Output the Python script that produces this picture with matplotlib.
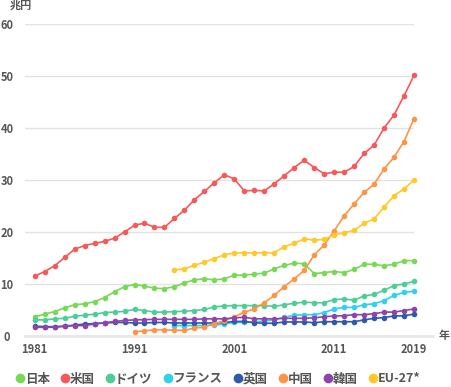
import matplotlib
matplotlib.use("Agg")
import matplotlib.pyplot as plt
from matplotlib.lines import Line2D
import numpy as np

plt.rcParams['font.family'] = ['Noto Sans CJK JP', 'DejaVu Sans']

years = np.arange(1981, 2020)
years_cn = np.arange(1991, 2020)
years_fr = np.arange(1995, 2020)
years_eu = np.arange(1995, 2020)

japan = [3.7, 4.2, 4.7, 5.4, 6.0, 6.2, 6.6, 7.4, 8.5, 9.5,
         9.9, 9.6, 9.2, 9.1, 9.5, 10.2, 10.8, 11.0, 10.8, 11.0,
         11.7, 11.7, 11.9, 12.1, 12.9, 13.6, 14.0, 13.9, 12.0, 12.2,
         12.4, 12.2, 12.8, 13.8, 13.8, 13.5, 13.8, 14.5, 14.5]
usa = [11.5, 12.4, 13.5, 15.1, 16.7, 17.4, 17.8, 18.2, 18.8, 20.0,
       21.3, 21.7, 20.9, 20.9, 22.6, 24.2, 26.2, 27.8, 29.5, 31.0,
       30.2, 27.9, 28.0, 27.9, 29.3, 30.8, 32.4, 33.8, 32.4, 31.2,
       31.5, 31.5, 32.6, 35.1, 36.7, 40.0, 42.5, 46.2, 50.1]
germany = [3.1, 3.1, 3.3, 3.4, 3.8, 4.0, 4.2, 4.5, 4.6, 4.75,
           5.1, 4.9, 4.6, 4.6, 4.7, 4.75, 4.9, 5.1, 5.6, 5.8,
           5.85, 5.85, 5.85, 5.85, 5.7, 6.0, 6.3, 6.5, 6.4, 6.4,
           7.0, 7.1, 6.9, 7.7, 8.0, 8.8, 9.7, 10.0, 10.5]
france = [2.0, 2.0, 2.0, 2.0, 2.1, 2.3,
          2.6, 2.6, 2.7, 2.9, 3.1, 3.6, 4.0, 4.1, 4.1, 4.5,
          5.2, 5.5, 5.5, 6.0, 6.2, 6.8, 7.8, 8.4, 8.6]
uk = [1.9, 1.8, 1.8, 1.9, 2.1, 2.3, 2.4, 2.5, 2.6, 2.6,
      2.5, 2.5, 2.6, 2.6, 2.5, 2.5, 2.5, 2.5, 2.5, 2.6,
      2.8, 2.8, 2.55, 2.45, 2.45, 2.7, 2.7, 2.7, 2.55, 2.75,
      2.75, 2.75, 2.75, 3.1, 3.4, 3.55, 3.85, 3.9, 4.2]
china = [0.8, 1.0, 1.2, 1.2, 1.1, 1.1, 1.5, 1.7, 2.4, 2.9,
         3.7, 4.6, 5.2, 6.4, 7.8, 9.5, 11.0, 12.6, 15.6, 17.5,
         20.2, 23.1, 25.4, 27.6, 29.2, 32.1, 34.4, 37.4, 41.8]
korea = [1.7, 1.65, 1.7, 1.85, 2.0, 2.0, 2.3, 2.55, 2.8, 3.0,
         3.1, 3.15, 3.2, 3.2, 3.2, 3.2, 3.2, 3.3, 3.3, 3.3,
         3.5, 3.6, 3.3, 3.3, 3.3, 3.4, 3.4, 3.4, 3.5, 3.7,
         3.85, 3.9, 4.1, 4.1, 4.3, 4.6, 4.6, 4.9, 5.2]
eu27 = [12.75, 12.9, 13.6, 14.2, 14.9, 15.6,
        16.0, 16.0, 16.0, 16.0, 16.0, 17.2, 17.8, 18.7, 18.4, 18.6,
        19.4, 19.9, 20.3, 21.7, 22.5, 24.8, 27.0, 28.3, 30.0]

series = [
    ("日本", years, japan, "#79d955"),
    ("米国", years, usa, "#f65959"),
    ("ドイツ", years, germany, "#4ccf96"),
    ("フランス", years_fr, france, "#2fd0f0"),
    ("英国", years, uk, "#2e5aac"),
    ("中国", years_cn, china, "#ff9447"),
    ("韓国", years, korea, "#8e44ad"),
    ("EU-27*", years_eu, eu27, "#ffc928"),
]

text_color = "#555555"

fig = plt.figure(figsize=(4.52, 3.87), dpi=100)
ax = fig.add_axes([25 / 452, 51 / 387, 389 / 452, 312 / 387])

for name, x, y, c in series:
    ax.plot(x, y, color=c, lw=1.2, marker="o", markersize=4,
            markeredgewidth=0, clip_on=False, zorder=3)

ax.set_xlim(1980.03, 2019)
ax.set_ylim(0, 60)
ax.set_yticks([0, 10, 20, 30, 40, 50, 60])
ax.set_xticks([1981, 1991, 2001, 2011, 2019])
ax.grid(axis="y", color="#e3e3e3", lw=1)
ax.set_axisbelow(True)
for s in ax.spines.values():
    s.set_visible(False)
ax.tick_params(length=0, labelsize=8, labelcolor=text_color)
ax.tick_params(axis="y", pad=13)
ax.tick_params(axis="x", pad=5)
for lab in ax.get_yticklabels():
    lab.set_horizontalalignment("center")
    lab.set_fontweight("bold")
for lab in ax.get_xticklabels():
    lab.set_fontweight("bold")

# baseline reaching past the last year
ax.add_line(Line2D([0, 408 / 389], [0, 0], transform=ax.transAxes,
                   color="#e8e8e8", lw=2, clip_on=False, zorder=1))

fig.text(21 / 452, 1 - 5 / 387, "兆円", ha="center", va="center",
         fontsize=8, fontweight="bold", color=text_color)
fig.text(444 / 452, 1 - 336 / 387, "年", ha="center", va="center",
         fontsize=8, fontweight="bold", color=text_color)

handles = [Line2D([], [], marker="o", linestyle="", color=c,
                  markersize=7, markeredgewidth=0) for _, _, _, c in series]
labels = [name for name, _, _, _ in series]
leg = fig.legend(handles, labels, loc="center", ncol=8,
                 bbox_to_anchor=(218 / 452, 8 / 387), frameon=False,
                 handlelength=0.7, handletextpad=0.05, columnspacing=0.85,
                 borderpad=0, prop={"size": 9, "weight": "bold"})
for t in leg.get_texts():
    t.set_color(text_color)

fig.savefig("out.png", dpi=100)
